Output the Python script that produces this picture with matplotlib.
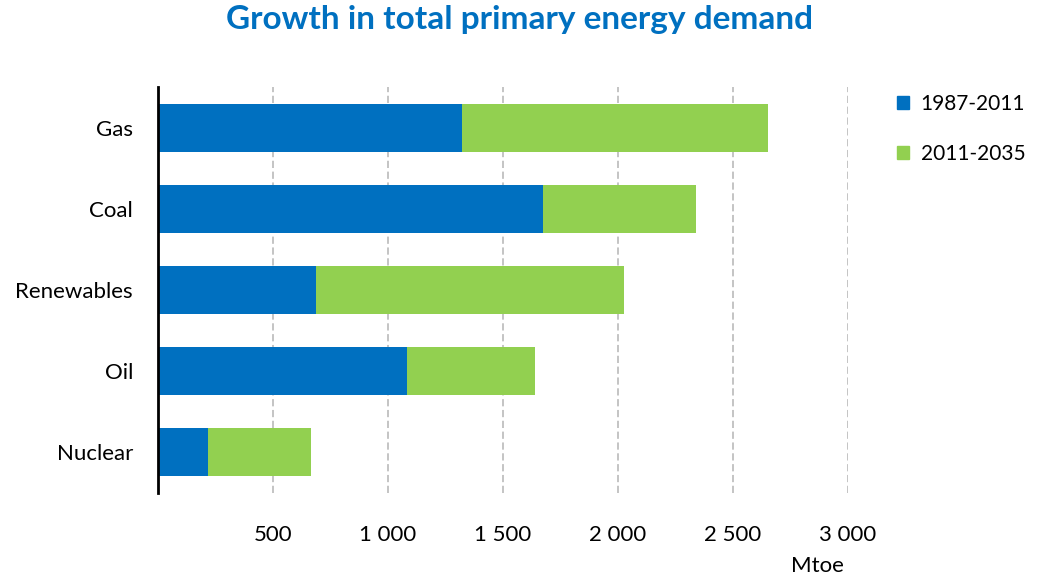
import matplotlib.pyplot as plt
from matplotlib.patches import Patch

categories = ["Gas", "Coal", "Renewables", "Oil", "Nuclear"]
growth_1987_2011 = [1322, 1674, 687, 1083, 217]
growth_2011_2035 = [1330, 665, 1339, 556, 448]
series_labels = ["1987-2011", "2011-2035"]
xticks = [500, 1000, 1500, 2000, 2500, 3000]
xtick_labels = ["500", "1 000", "1 500", "2 000", "2 500", "3 000"]

blue = "#0070C0"
green = "#92D050"

plt.rcParams['font.family'] = ['Lato', 'DejaVu Sans']

fig = plt.figure(figsize=(10.38, 5.81), dpi=100)
ax = fig.add_axes([158/1038, 1 - 493/581, 690/1038, 406/581])

ypos = list(range(len(categories)))
ax.barh(ypos, growth_1987_2011, height=0.59, color=blue, zorder=3)
ax.barh(ypos, growth_2011_2035, left=growth_1987_2011, height=0.59, color=green, zorder=3)

ax.set_ylim(len(categories) - 0.5, -0.5)
ax.set_xlim(0, 3000)
ax.set_yticks(ypos)
ax.set_yticklabels(categories, fontsize=16)
ax.set_xticks(xticks)
ax.set_xticklabels(xtick_labels, fontsize=16)
ax.tick_params(axis='both', length=0)
ax.tick_params(axis='x', pad=23)
ax.tick_params(axis='y', pad=18)

ax.grid(axis='x', color="#BFBFBF", linestyle=(0, (4, 2)), linewidth=1.3, zorder=0)
for side in ["top", "right", "bottom"]:
    ax.spines[side].set_visible(False)
ax.spines["left"].set_linewidth(2)
ax.spines["left"].set_zorder(4)

fig.text(0.5, 1 - 20/581, "Growth in total primary energy demand", ha="center", va="center",
         fontsize=24, fontweight="bold", color=blue)
fig.text(817/1038, 1 - 566/581, "Mtoe", ha="center", va="center", fontsize=16)

handles = [Patch(color=blue), Patch(color=green)]
fig.legend(handles, series_labels, loc="upper left", bbox_to_anchor=(878/1038, 1 - 75/581),
           frameon=False, fontsize=15, handlelength=0.6, handleheight=0.6,
           labelspacing=1.45, handletextpad=0.55)

fig.savefig("out.png", dpi=100)
